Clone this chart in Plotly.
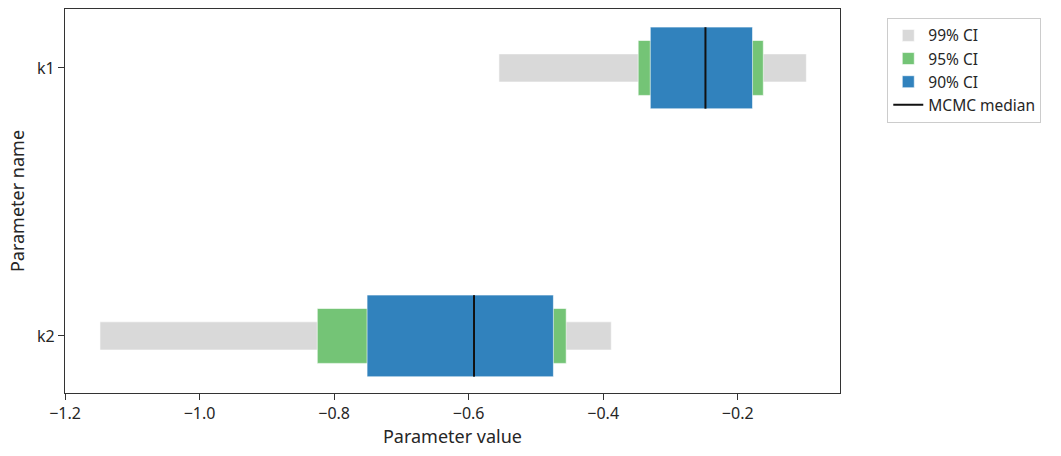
import plotly.graph_objects as go

params = ["k1", "k2"]
ci99_lo = [-0.555, -1.148]
ci99_hi = [-0.098, -0.388]
ci95_lo = [-0.348, -0.825]
ci95_hi = [-0.162, -0.455]
ci90_lo = [-0.330, -0.751]
ci90_hi = [-0.178, -0.474]
median = [-0.248, -0.592]

pos = list(range(len(params)))
fig = go.Figure()

def add_ci(lo, hi, width, color, name):
    fig.add_trace(go.Bar(
        y=pos, x=[h - l for l, h in zip(lo, hi)], base=lo, orientation="h",
        width=width, marker=dict(color=color, line=dict(color="white", width=0.6)),
        name=name, hoverinfo="skip"))

add_ci(ci99_lo, ci99_hi, 0.105, "#d9d9d9", "99% CI")
add_ci(ci95_lo, ci95_hi, 0.205, "#74c476", "95% CI")
add_ci(ci90_lo, ci90_hi, 0.305, "#3182bd", "90% CI")

mx, my = [], []
for p, m in zip(pos, median):
    mx += [m, m, None]
    my += [p - 0.152, p + 0.152, None]
fig.add_trace(go.Scatter(x=mx, y=my, mode="lines", line=dict(color="#111111", width=2),
                         name="MCMC median"))

font = "Noto Sans, DejaVu Sans, sans-serif"
fig.update_layout(
    width=1061, height=456, barmode="overlay",
    margin=dict(l=65, r=221, t=9, b=63),
    plot_bgcolor="white", paper_bgcolor="white",
    font=dict(family=font, size=16, color="#262626"),
    showlegend=True,
    legend=dict(x=1.061, y=0.977, xanchor="left", yanchor="top",
                bordercolor="#cccccc", borderwidth=1, font=dict(size=15.5, color="#262626"),
                tracegroupgap=0, itemwidth=30),
    xaxis=dict(range=[-1.2, -0.048], tickvals=[-1.2, -1.0, -0.8, -0.6, -0.4, -0.2],
               ticktext=["\u22121.2", "\u22121.0", "\u22120.8", "\u22120.6", "\u22120.4", "\u22120.2"],
               showgrid=False, zeroline=False, showline=True, linecolor="#333333", linewidth=1.3,
               mirror=True, ticks="outside", ticklen=6, tickcolor="#333333", tickwidth=1.3,
               tickfont=dict(size=16),
               title=dict(text="Parameter value", font=dict(size=18), standoff=4)),
    yaxis=dict(range=[1.213, -0.22], tickvals=pos, ticktext=params,
               showgrid=False, zeroline=False, showline=True, linecolor="#333333", linewidth=1.3,
               mirror=True, ticks="outside", ticklen=6, tickcolor="#333333", tickwidth=1.3,
               tickfont=dict(size=16),
               title=dict(text="Parameter name", font=dict(size=18), standoff=7)),
)
fig.write_html("out.html")
